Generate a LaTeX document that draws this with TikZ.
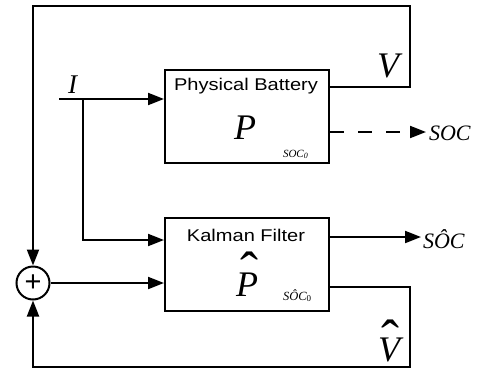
\documentclass[tikz,border=0pt]{standalone}
\usepackage{fontspec}
\usepackage{graphicx}
\setmainfont{Liberation Sans}
\newfontfamily\tnr{Liberation Serif}
\usetikzlibrary{arrows.meta}
\newcommand\myhat[3]{\ooalign{#1\cr\hidewidth\kern#3\raisebox{#2}{\upshape\fontsize{54}{54}\selectfont\char"02C6}\hidewidth\cr}}
\begin{document}
\begin{tikzpicture}[x=1pt,y=-1pt,line width=2pt,
  >={Triangle[length=16pt,width=12pt]},
  block/.style={draw,rectangle,minimum width=164pt,minimum height=93pt,inner sep=0pt},
  sumnode/.style={draw,circle,minimum size=33pt,inner sep=0pt},
  boxlab/.style={font=\fontsize{17}{17}\selectfont,inner sep=0pt,anchor=base},
  var/.style={font=\tnr\itshape,inner sep=0pt,anchor=base},
  sublab/.style={font=\tnr\itshape\fontsize{11}{11}\selectfont,inner sep=0pt,anchor=base west}]
\useasboundingbox (0,0) rectangle (479,370);
% blocks
\node[block] (bat) at (247,116.5) {};
\node[block] (kal) at (247,264.5) {};
\node[sumnode] (sum) at (33,283) {\fontsize{29}{29}\selectfont +};
% block labels
\node[boxlab] (batlab) at (246,90) {\scalebox{1.18}[1]{Physical Battery}};
\node[boxlab] (kallab) at (246,241) {\scalebox{1.18}[1]{Kalman Filter}};
\node[var,font=\tnr\itshape\fontsize{36}{36}\selectfont] (P) at (245,139) {P};
\node[var,font=\tnr\itshape\fontsize{36}{36}\selectfont] (Phat) at (247,296) {\myhat{P}{7pt}{4pt}};
\node[sublab] (soc0) at (282,157) {SOC\raisebox{-1.5pt}{\fontsize{8}{8}\selectfont 0}};
\node[sublab,font=\tnr\itshape\fontsize{12.5}{12.5}\selectfont] (soch0) at (282,300) {SÔC\raisebox{-1.5pt}{\upshape\fontsize{9}{9}\selectfont 0}};
% signal labels
\node[var,font=\tnr\itshape\fontsize{27}{27}\selectfont] (I) at (72.5,93) {I};
\node[var,font=\tnr\itshape\fontsize{36}{36}\selectfont] (V) at (388,77) {V};
\node[var,font=\tnr\itshape\fontsize{36}{36}\selectfont] (Vhat) at (389,361) {\myhat{V}{4pt}{3pt}};
\node[var,anchor=base west,inner sep=1pt,font=\tnr\itshape\fontsize{22}{22}\selectfont] (soc) at (427,140) {SOC};
\node[var,anchor=base west,font=\tnr\itshape\fontsize{22}{22}\selectfont] (sochat) at (422,248) {SÔC};
% coordinates
\coordinate (Istart) at (59,99);
\coordinate (branch) at (83,99);
\coordinate (bk) at (83,240);
\coordinate (Vr) at (410,87);
\coordinate (tr) at (410,6);
\coordinate (tl) at (33,6);
\coordinate (Vhr) at (410,287);
\coordinate (br) at (410,367);
\coordinate (bl) at (33,367);
\coordinate (sa) at (421,237);
\coordinate (sd) at (426,132);
% connectors
\draw[->] (Istart) -- (Istart -| bat.west);
\draw[->] (branch) -- (bk) -- (bk -| kal.west);
\draw[->] (sum.east) -- (sum.east -| kal.west);
\draw[->] (bat.east |- Vr) -- (Vr) -- (tr) -- (tl) -- (sum.north);
\draw[->] (kal.east |- Vhr) -- (Vhr) -- (br) -- (bl) -- (sum.south);
\draw[->,dash pattern=on 14pt off 14pt] (bat.east |- sd) -- (sd);
\draw[->] (kal.east |- sa) -- (sa);
\end{tikzpicture}
\end{document}
